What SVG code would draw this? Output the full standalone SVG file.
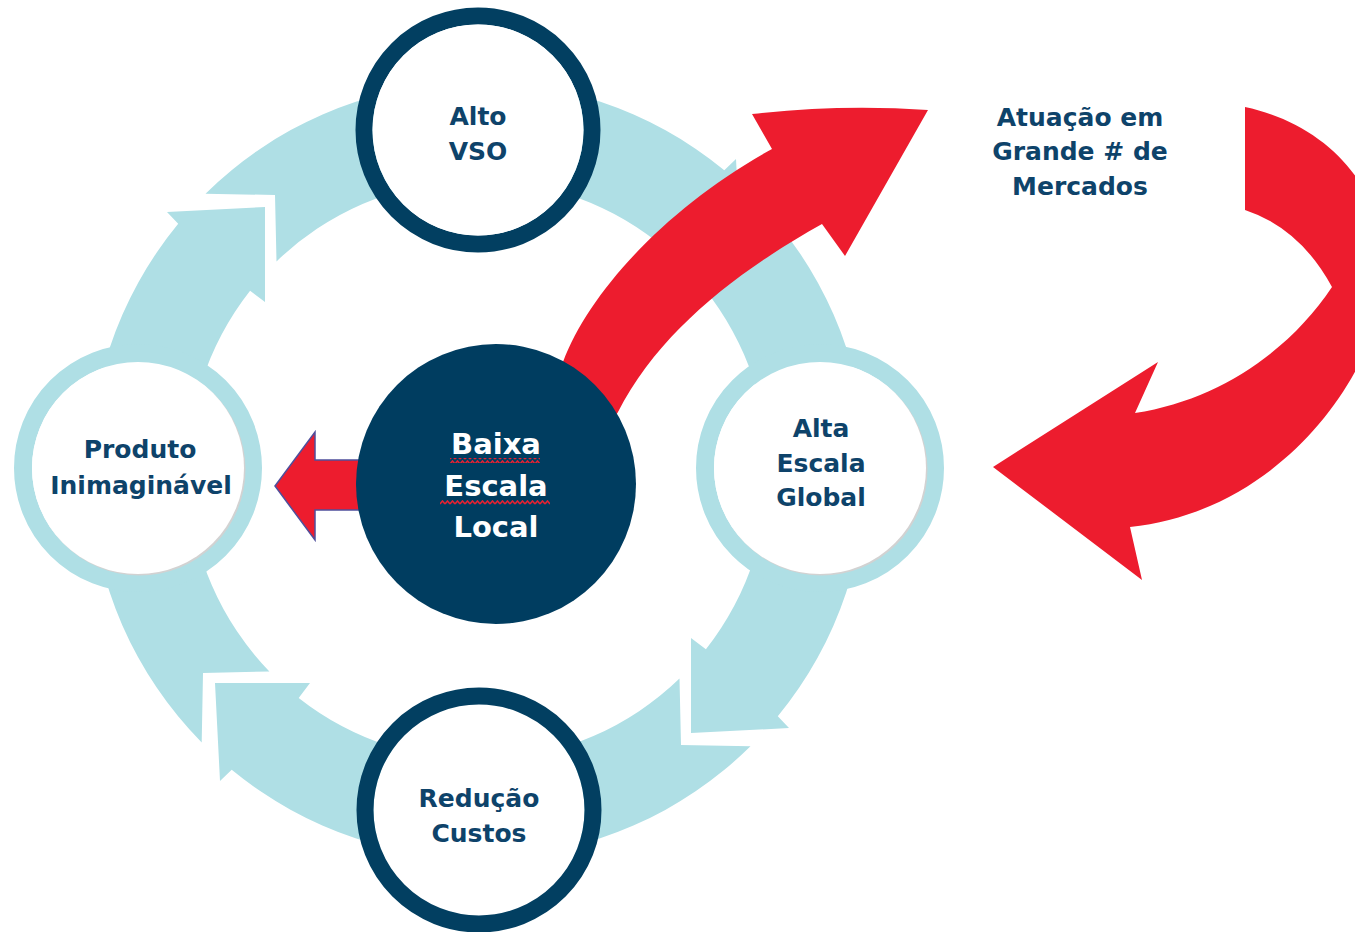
<svg xmlns="http://www.w3.org/2000/svg" width="1355" height="932" viewBox="0 0 1355 932">
<style>
.band{fill:#AFDFE5}
.red{fill:#ED1C2E}
.ring{fill:none;stroke:#023F61;stroke-width:17}
.lring{fill:none;stroke:#AFDFE5;stroke-width:18}
.lbl{font-family:"DejaVu Sans","Liberation Sans",sans-serif;font-weight:bold;font-size:25px;fill:#0E436A;text-anchor:middle}
.wlbl{font-family:"DejaVu Sans","Liberation Sans",sans-serif;font-weight:bold;font-size:29px;fill:#FFFFFF;text-anchor:middle}
</style>
<defs>
<path id="seg" d="M205.5,193.7 A388,388 0 0,1 724.3,170.2 L736,159 L741,257 L646,257 L657.3,242.1 A290,290 0 0,0 276.5,261.4 L275,195 Z"/>
<pattern id="wavy" patternUnits="userSpaceOnUse" width="5" height="5">
<path d="M0,4 L2.5,1 L5,4" fill="none" stroke="#E8202F" stroke-width="1.5"/>
</pattern>
</defs>
<rect width="1355" height="932" fill="#FFFFFF"/>
<g id="connectors">
<use href="#seg" class="band"/>
<use href="#seg" class="band" transform="rotate(90 478 470)"/>
<use href="#seg" class="band" transform="rotate(180 478 470)"/>
<use href="#seg" class="band" transform="rotate(270 478 470)"/>
<path class="red" d="M548,400 L563,362 C590,290 670,205 772,149 L752,114 Q840,104 928,110 L845,256 L822,224 C740,270 660,330 618,412 L600,440 Z"/>
<path class="red" d="M1245,107 C1330,125 1385,190 1385,270 C1385,360 1290,510 1130,527 L1142,580 L993,467 L1158,362 L1135,413 C1220,400 1290,350 1332,287 Q1300,228 1245,210 Z"/>
<path class="red" d="M275,486 L315,432 L315,460 L380,460 L380,510 L315,510 L315,540 Z" stroke="#4F4F9C" stroke-width="1.5" stroke-linejoin="miter"/>
</g>
<g id="node-alto-vso">
<circle cx="478" cy="130" r="114" fill="#FFFFFF" class="ring"/>
<circle cx="478" cy="130" r="105.5" fill="#FFFFFF"/>
<text class="lbl" x="478" y="125">Alto</text>
<text class="lbl" x="478" y="160">VSO</text>
</g>
<g id="node-reducao-custos">
<circle cx="479" cy="810" r="105.5" fill="#FFFFFF"/>
<circle cx="479" cy="810" r="114" class="ring"/>
<text class="lbl" x="479" y="807">Redução</text>
<text class="lbl" x="479" y="842">Custos</text>
</g>
<g id="node-produto">
<circle cx="138" cy="468" r="115" class="lring"/>
<circle cx="139.5" cy="469.5" r="106" fill="#D2D2D2"/>
<circle cx="138" cy="468" r="106" fill="#FFFFFF"/>
<text class="lbl" x="140" y="458">Produto</text>
<text class="lbl" x="141" y="494">Inimaginável</text>
</g>
<g id="node-alta-escala">
<circle cx="820" cy="468" r="115" class="lring"/>
<circle cx="821.5" cy="469.5" r="106" fill="#D2D2D2"/>
<circle cx="820" cy="468" r="106" fill="#FFFFFF"/>
<text class="lbl" x="821" y="437">Alta</text>
<text class="lbl" x="821" y="472">Escala</text>
<text class="lbl" x="821" y="506">Global</text>
</g>
<g id="node-atuacao">
<text class="lbl" x="1080" y="126">Atuação em</text>
<text class="lbl" x="1080" y="160">Grande # de</text>
<text class="lbl" x="1080" y="195">Mercados</text>
</g>
<g id="node-baixa-escala">
<circle cx="496" cy="484" r="140" fill="#003D60"/>
<text class="wlbl" x="496" y="454">Baixa</text>
<text class="wlbl" x="496" y="496">Escala</text>
<text class="wlbl" x="496" y="537">Local</text>
<rect x="450" y="458" width="90" height="5" fill="url(#wavy)"/>
<rect x="440" y="500" width="110" height="5" fill="url(#wavy)"/>
</g>
</svg>
